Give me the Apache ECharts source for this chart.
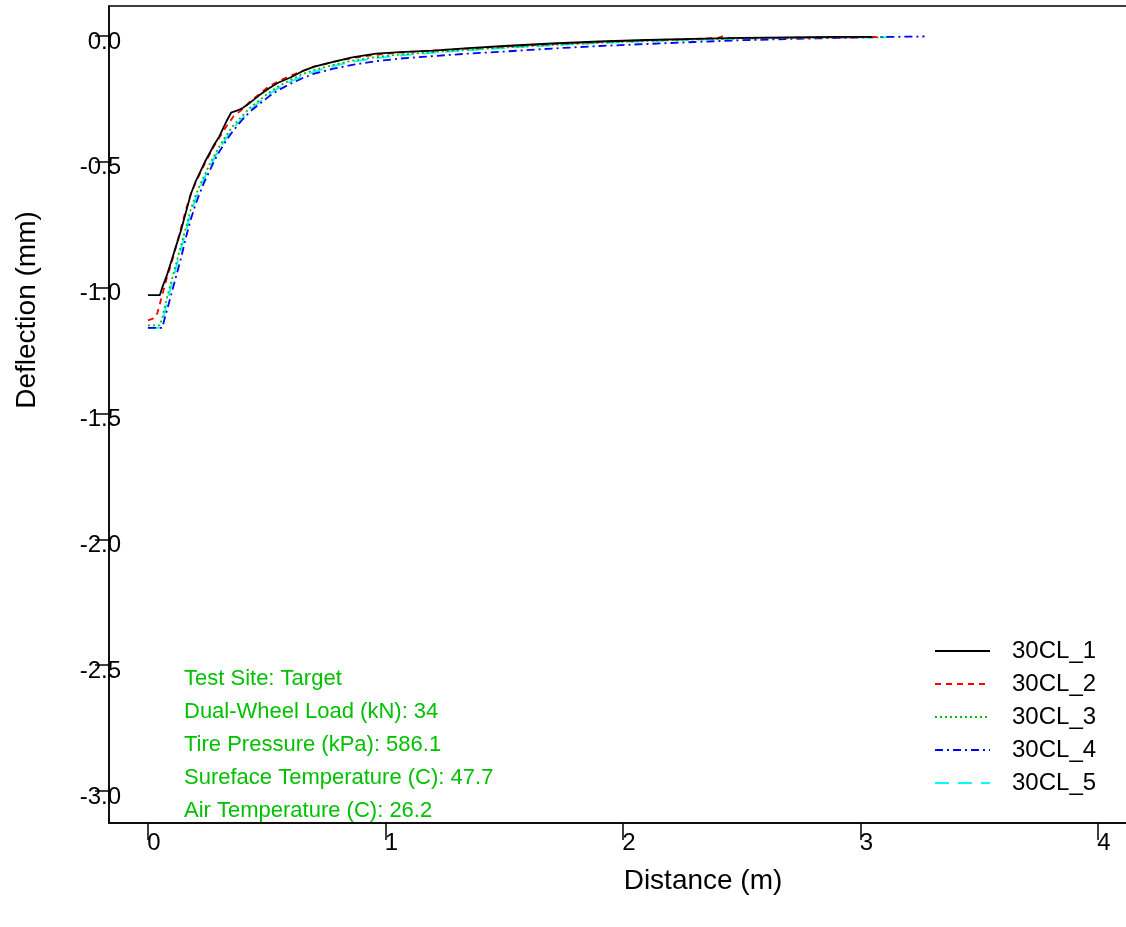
<!DOCTYPE html>
<html><head><meta charset="utf-8">
<script src="https://cdn.jsdelivr.net/npm/echarts@6/dist/echarts.min.js"></script>
<style>html,body{margin:0;padding:0;background:#fff}#c{width:1126px;height:927px}</style>
</head><body><div id="c"></div>
<script>
const seriesNames = ['30CL_1','30CL_2','30CL_3','30CL_4','30CL_5'];
const xTicks = [0,1,2,3,4];
const yTicks = [0,-0.5,-1,-1.5,-2,-2.5,-3];
const xTitle = 'Distance (m)';
const yTitle = 'Deflection (mm)';
const infoLines = ['Test Site: Target','Dual-Wheel Load (kN): 34','Tire Pressure (kPa): 586.1','Sureface Temperature (C): 47.7','Air Temperature (C): 26.2'];

const s1 = [[0,-1.03],[0.05,-1.03],[0.06,-1.0],[0.08,-0.95],[0.10,-0.89],[0.12,-0.83],[0.14,-0.77],[0.16,-0.70],[0.18,-0.63],[0.20,-0.58],[0.22,-0.54],[0.24,-0.50],[0.26,-0.465],[0.28,-0.43],[0.30,-0.40],[0.33,-0.34],[0.35,-0.305],[0.38,-0.295],[0.40,-0.285],[0.43,-0.265],[0.47,-0.235],[0.51,-0.208],[0.55,-0.185],[0.60,-0.165],[0.65,-0.14],[0.70,-0.122],[0.78,-0.103],[0.86,-0.085],[0.96,-0.07],[1.06,-0.064],[1.2,-0.058],[1.35,-0.048],[1.5,-0.04],[1.7,-0.03],[1.9,-0.022],[2.1,-0.016],[2.3,-0.012],[2.5,-0.008],[2.7,-0.006],[2.9,-0.004],[3.05,-0.004]];
const s2 = [[0,-1.13],[0.03,-1.12],[0.04,-1.10],[0.06,-1.03],[0.08,-0.96],[0.10,-0.90],[0.12,-0.83],[0.14,-0.76],[0.16,-0.69],[0.18,-0.63],[0.20,-0.585],[0.22,-0.545],[0.24,-0.505],[0.26,-0.47],[0.28,-0.435],[0.30,-0.405],[0.33,-0.36],[0.36,-0.32],[0.40,-0.29],[0.43,-0.26],[0.47,-0.23],[0.51,-0.20],[0.55,-0.18],[0.60,-0.158],[0.65,-0.14],[0.70,-0.122],[0.78,-0.103],[0.86,-0.088],[0.96,-0.075],[1.06,-0.066],[1.2,-0.058],[1.35,-0.05],[1.5,-0.042],[1.7,-0.032],[1.9,-0.024],[2.1,-0.017],[2.3,-0.012],[2.4,-0.008],[2.42,-0.002],[2.45,-0.009],[2.6,-0.008],[2.8,-0.006],[3.0,-0.005],[3.08,-0.004]];
const s3 = [[0,-1.15],[0.05,-1.15],[0.06,-1.12],[0.08,-1.04],[0.10,-0.97],[0.12,-0.90],[0.14,-0.83],[0.16,-0.76],[0.18,-0.69],[0.20,-0.635],[0.22,-0.59],[0.24,-0.55],[0.26,-0.51],[0.28,-0.475],[0.30,-0.44],[0.33,-0.395],[0.36,-0.355],[0.40,-0.315],[0.43,-0.285],[0.47,-0.255],[0.51,-0.225],[0.55,-0.20],[0.60,-0.175],[0.65,-0.152],[0.70,-0.135],[0.78,-0.115],[0.86,-0.098],[0.96,-0.084],[1.06,-0.074],[1.2,-0.064],[1.35,-0.055],[1.5,-0.046],[1.7,-0.036],[1.9,-0.027],[2.1,-0.02],[2.3,-0.014],[2.5,-0.01],[2.7,-0.008],[2.9,-0.006],[3.1,-0.006]];
const s4 = [[0,-1.16],[0.06,-1.16],[0.08,-1.09],[0.10,-1.02],[0.12,-0.95],[0.14,-0.88],[0.16,-0.80],[0.18,-0.73],[0.20,-0.67],[0.22,-0.62],[0.24,-0.575],[0.26,-0.535],[0.28,-0.495],[0.30,-0.46],[0.33,-0.415],[0.36,-0.375],[0.40,-0.33],[0.43,-0.30],[0.47,-0.27],[0.51,-0.24],[0.55,-0.215],[0.60,-0.19],[0.65,-0.168],[0.70,-0.15],[0.78,-0.13],[0.86,-0.115],[0.96,-0.10],[1.06,-0.09],[1.2,-0.08],[1.35,-0.07],[1.5,-0.062],[1.7,-0.05],[1.9,-0.04],[2.1,-0.032],[2.3,-0.024],[2.5,-0.017],[2.7,-0.012],[2.9,-0.008],[3.1,-0.004],[3.27,-0.002]];
const s5 = [[0,-1.16],[0.055,-1.16],[0.065,-1.12],[0.08,-1.06],[0.10,-0.985],[0.12,-0.915],[0.14,-0.845],[0.16,-0.775],[0.18,-0.705],[0.20,-0.65],[0.22,-0.60],[0.24,-0.56],[0.26,-0.52],[0.28,-0.485],[0.30,-0.45],[0.33,-0.405],[0.36,-0.365],[0.40,-0.325],[0.43,-0.295],[0.47,-0.262],[0.51,-0.232],[0.55,-0.207],[0.60,-0.182],[0.65,-0.16],[0.70,-0.142],[0.78,-0.12],[0.86,-0.103],[0.96,-0.088],[1.06,-0.078],[1.2,-0.067],[1.35,-0.057],[1.5,-0.048],[1.7,-0.037],[1.9,-0.028],[2.1,-0.021],[2.3,-0.015],[2.5,-0.011],[2.7,-0.008],[2.9,-0.006],[3.12,-0.005]];
const seriesData = [s1,s2,s3,s4,s5];
const colors = ['#000000','#ff0000','#00c000','#0000ff','#00ffff'];
const dashes = ['solid',[6,5],[2,3],[8,4,2,4],[14,9]];

const FONT = 'Liberation Sans, Arial, sans-serif';
const chart = echarts.init(document.getElementById('c'), null, {renderer:'canvas'});
chart.setOption({
  animation:false,
  backgroundColor:'#fff',
  grid:{left:109, top:6, right:-2, bottom:104, show:true, borderColor:'#000', borderWidth:1.5,
    backgroundColor:'transparent', containLabel:false, outerBoundsMode:'none'},
  xAxis:{type:'value', min:-0.164, max:4.1265,
    axisLine:{show:true, onZero:false, lineStyle:{color:'#000', width:1.5}},
    axisTick:{show:true, length:17, customValues:xTicks, lineStyle:{color:'#000', width:1.5}},
    axisLabel:{customValues:xTicks, margin:8, fontFamily:FONT, fontSize:24, color:'#000', padding:[0,0,0,12]},
    splitLine:{show:false}},
  yAxis:{type:'value', min:-3.127, max:0.119,
    axisLine:{show:true, onZero:false, lineStyle:{color:'#000', width:1.5}},
    axisTick:{show:true, length:14, customValues:yTicks, lineStyle:{color:'#000', width:1.5}},
    axisLabel:{customValues:yTicks, margin:-12, fontFamily:FONT, fontSize:24, color:'#000',
      verticalAlign:'top', lineHeight:12,
      formatter:v=>(Math.abs(v)<1e-9?'0.0':v.toFixed(1))},
    splitLine:{show:false}},
  legend:{orient:'vertical', left:929, top:634, itemWidth:55, itemHeight:14, itemGap:9,
    itemStyle:{opacity:0},
    textStyle:{fontFamily:FONT, fontSize:24, lineHeight:24, color:'#000', padding:[0,0,0,17]},
    data:seriesNames},
  graphic:[
    {type:'text', left:184, top:662, style:{text:infoLines.join('\n'), font:'22px '+FONT, fill:'#00c000', lineHeight:33}},
    {type:'text', x:703, y:881, style:{text:xTitle, font:'28px '+FONT, fill:'#000', align:'center', verticalAlign:'middle'}},
    {type:'text', x:27, y:310, rotation:Math.PI/2, style:{text:yTitle, font:'28px '+FONT, fill:'#000', align:'center', verticalAlign:'middle'}}
  ],
  series: seriesNames.map((n,i)=>({name:n, type:'line', data:seriesData[i], symbol:'none', showSymbol:false,
    lineStyle:{color:colors[i], width:1.8, type:dashes[i]}, itemStyle:{color:colors[i]}, z:10-i}))
});
</script></body></html>
